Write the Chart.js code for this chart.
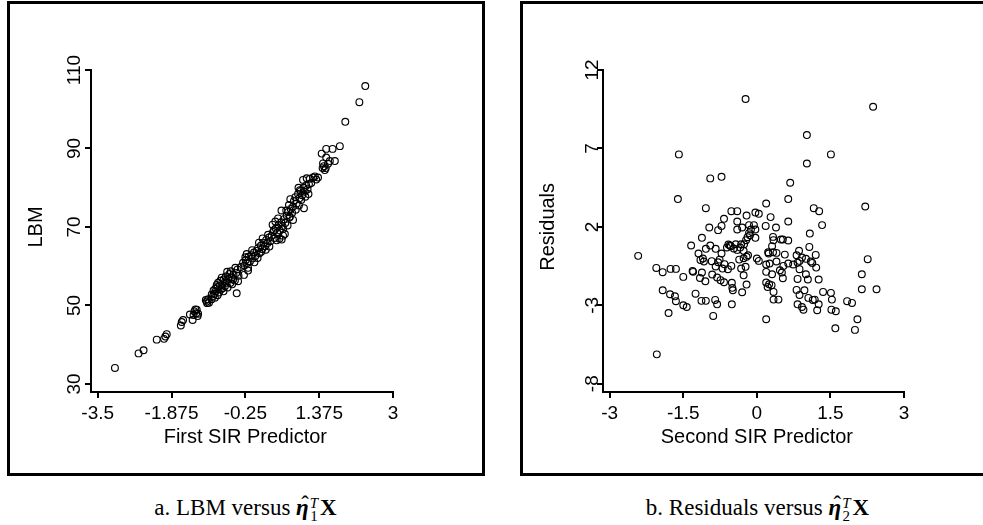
<!DOCTYPE html>
<html>
<head>
<meta charset="utf-8">
<script src="https://cdn.jsdelivr.net/npm/chart.js@4.4.1/dist/chart.umd.min.js"></script>
<style>
  html, body { margin: 0; padding: 0; background: #fff; }
  body { width: 983px; height: 525px; position: relative; overflow: hidden; }
  .panel { position: absolute; box-sizing: border-box; border: 3px solid #000; }
  canvas { position: absolute; top: 0; }
  .cap { position: absolute; top: 496px; text-align: center; white-space: nowrap;
         font-family: "Liberation Serif", serif; font-size: 23px; line-height: 23px; color: #000; }
  .eta { font-weight: bold; font-style: italic; position: relative; }
  .hat { position: absolute; left: 0.22em; top: -0.08em; font-style: normal; font-weight: normal; }
  .ss { display: inline-block; font-size: 15px; line-height: 13px; vertical-align: -6px; margin: 0 2px 0 1px; }
  .ss i, .ss span { display: block; }
</style>
</head>
<body>

<div class="panel" style="left:7px; width:478px; top:1px; height:475px;"></div>
<div class="panel" style="left:520px; width:470px; top:1px; height:475px;"></div>

<canvas id="plotA" width="492" height="480" style="left:0px;"></canvas>
<canvas id="plotB" width="491" height="480" style="left:492px;"></canvas>

<div class="cap" style="left:0px; width:491px;">a. LBM versus <span class="eta">η<span class="hat">ˆ</span></span><span class="ss"><i>T</i><span>1</span></span><b>X</b></div>
<div class="cap" style="left:532px; width:451px;">b. Residuals versus <span class="eta">η<span class="hat">ˆ</span></span><span class="ss"><i>T</i><span>2</span></span><b>X</b></div>

<script>
/* panel a: LBM against the first SIR predictor */

const lbmPredictor = [
    -3.12, -2.60, -2.49, -2.20, -2.04, -2.01, -1.98, -1.67, -1.65, -1.62,
    -1.47, -1.41, -1.37, -1.32, -1.29, -1.33, -1.30, -1.39, -1.35, -1.10,
    -1.07, -1.12, -1.05, -0.99, -1.09, -0.96, -0.93, -0.90, -0.86, -0.83,
    -0.91, -0.86, -0.79, -0.76, -0.73, -0.70, -0.85, -0.80, -0.73, -0.66,
    -0.62, -0.58, -0.55, -0.51, -0.48, -0.45, -0.60, -0.68, -0.42, -0.40,
    -0.44, -0.28, -0.41, -0.95, -0.88, -0.77, -0.64, -0.57, -0.52, -0.47,
    -0.35, -0.92, -0.81, -0.69, -0.54, -0.99, -0.75, -0.27, -0.24, -0.21,
    -0.18, -0.15, -0.12, -0.22, -0.09, -0.06, -0.03, 0.00, -0.19, -0.19,
    0.03, 0.06, 0.09, 0.12, 0.15, 0.18, 0.21, 0.24, 0.27, 0.05,
    0.10, -0.05, 0.20, 0.30, -0.25, 0.13, 0.25, -0.10, 0.02, 0.33,
    0.36, 0.39, 0.42, 0.45, 0.48, 0.51, 0.54, 0.57, 0.60, 0.63,
    0.66, 0.69, 0.72, 0.75, 0.78, 0.35, 0.41, 0.50, 0.55, 0.62,
    0.58, 0.47, 0.545, 0.71, 0.65, 0.80, 0.68, 0.44, 0.38, 0.58,
    0.74, 0.73, 0.80, 1.04, 0.82, 0.85, 0.88, 0.91, 0.94, 0.97,
    1.00, 1.03, 1.06, 1.09, 1.12, 1.02, 1.10, 1.17, 1.24, 1.31,
    1.20, 1.15, 0.86, 0.93, 0.98, 1.07, 1.14, 1.28, 1.35, 0.95,
    1.43, 1.53, 1.72, 1.61, 1.48, 1.45, 1.52, 1.53, 1.67, 1.83,
    1.95, 2.26, 2.39, 1.50, 1.57, 1.46, -0.65, -0.30, 0.28, 0.92
];

const lbmValues = [
    34.1, 37.8, 38.6, 41.3, 41.5, 42.1, 42.7, 44.9, 45.8, 46.3,
    47.7, 46.3, 48.5, 48.9, 47.9, 48.0, 47.3, 47.6, 49.0, 51.0,
    51.6, 51.4, 50.7, 51.6, 50.6, 52.4, 53.0, 53.6, 52.6, 53.3,
    54.3, 54.7, 54.1, 55.3, 53.6, 54.9, 55.8, 56.3, 56.6, 55.8,
    56.8, 55.7, 57.2, 57.8, 56.4, 58.3, 58.0, 57.4, 59.2, 57.6,
    53.1, 57.8, 56.2, 53.8, 55.2, 57.1, 54.6, 58.7, 56.6, 59.6,
    59.8, 52.0, 55.0, 56.2, 55.4, 52.8, 54.4, 60.2, 61.6, 60.8,
    62.4, 61.2, 62.8, 63.1, 62.0, 63.5, 62.6, 63.9, 59.6, 58.9,
    64.6, 63.3, 65.2, 64.4, 66.0, 65.1, 66.7, 65.9, 67.3, 66.0,
    63.7, 61.0, 64.2, 66.4, 62.3, 67.1, 68.0, 64.1, 62.1, 67.8,
    68.7, 67.2, 69.6, 68.5, 70.4, 69.1, 71.2, 70.2, 72.0, 71.0,
    72.9, 73.8, 72.4, 74.6, 73.6, 70.6, 71.4, 67.0, 66.8, 68.2,
    67.8, 72.2, 74.2, 75.6, 74.2, 75.2, 70.4, 66.6, 69.2, 69.5,
    77.1, 72.6, 71.8, 74.8, 76.6, 77.6, 76.0, 78.4, 77.3, 79.2,
    78.1, 80.0, 79.0, 80.6, 79.6, 82.0, 82.4, 82.3, 82.6, 82.1,
    81.2, 80.9, 74.4, 75.5, 76.9, 77.7, 78.4, 82.9, 82.6, 79.4,
    88.7, 87.7, 86.8, 86.8, 85.5, 85.0, 85.0, 89.9, 89.9, 90.6,
    96.8, 101.8, 105.9, 84.5, 86.1, 86.2, 58.6, 60.9, 65.0, 80.0
];

const lbmTicksX = [-3.5, -1.875, -0.25, 1.375, 3];
const lbmTicksY = [30, 50, 70, 90, 110];

/* panel b: residuals against the second SIR predictor */

const residPredictor = [
    -0.23, 2.37, 1.02, 1.51, -1.59, 1.02, -0.95, -0.72, 0.68, -1.61,
    0.64, 0.19, 2.21, -1.04, -0.52, -0.40, 1.16, 1.27, -0.03, 0.04,
    -0.21, 0.28, -0.67, 0.64, -0.40, 1.33, -0.16, -0.06, -0.72, -0.97,
    0.18, 0.39, -0.30, -0.40, -0.12, -0.03, -0.79, -0.16, 1.08, -0.03,
    -0.19, -1.12, -0.22, 0.33, 0.34, 0.49, 0.53, 0.64, -0.26, -0.32,
    -0.43, -0.55, -0.58, -0.53, -0.61, -1.34, -0.95, 0.31, 1.07, -0.34,
    -0.47, -1.04, -0.84, 0.23, 0.33, 0.40, 0.86, -1.19, -1.10, -0.72,
    -0.27, -0.40, -0.18, -0.21, 1.20, 0.81, 0.57, 0.24, -2.42, -0.27,
    -0.36, 0.00, 0.04, 2.26, -1.15, -1.08, -0.92, -0.76, -0.79, 0.40,
    0.26, 0.64, 0.83, 0.87, 1.10, 1.13, -0.66, -0.84, -0.52, -0.32,
    -0.23, 0.54, 0.74, 0.92, 1.00, 1.21, 1.00, 0.87, 0.47, 0.51,
    0.19, 0.31, 0.19, -0.59, -0.70, -2.05, -1.76, -1.65, -1.92, -1.31,
    -1.30, -1.12, -0.91, -1.50, -1.16, -0.81, -0.27, 0.53, 0.83, 1.04,
    1.26, 2.14, -1.05, -0.74, -0.67, -0.51, -0.21, 0.19, 0.25, 0.30,
    0.22, -0.50, -0.49, 2.14, 2.44, -1.92, 0.81, 0.97, 0.34, -0.30,
    1.35, 1.51, -1.25, -1.77, -1.67, 0.87, -1.65, -1.13, -1.04, -0.85,
    -0.81, -0.51, 0.34, 0.44, 1.05, 1.14, 1.18, 0.83, 1.26, 1.53,
    1.84, 1.94, -1.50, -1.43, 0.92, 0.95, 1.23, 1.52, 1.61, -1.80,
    -0.89, 0.19, 2.05, 1.60, 2.00, -2.04, -0.14
];

const residValues = [
    10.15, 9.66, 7.85, 6.62, 6.62, 6.04, 5.09, 5.19, 4.81, 3.77,
    3.77, 3.49, 3.30, 3.19, 3.00, 3.00, 3.19, 3.00, 2.91, 2.83,
    2.72, 2.62, 2.51, 2.34, 2.34, 2.11, 2.11, 2.11, 2.06, 1.96,
    2.06, 1.96, 1.96, 1.83, 1.83, 1.83, 1.79, 1.60, 1.57, 1.30,
    1.34, 1.30, 1.15, 1.36, 1.15, 1.19, 1.19, 1.13, 0.89, 0.89,
    0.89, 0.81, 0.87, 0.77, 0.68, 0.81, 0.81, 0.77, 0.72, 0.68,
    0.62, 0.60, 0.60, 0.38, 0.38, 0.34, 0.47, 0.30, -0.02, 0.30,
    0.47, 0.53, 0.19, 0.09, 0.21, 0.19, 0.23, 0.30, 0.15, 0.00,
    -0.09, -0.02, -0.17, -0.06, -0.11, -0.21, -0.19, -0.09, -0.26, -0.21,
    -0.34, -0.34, -0.28, -0.17, -0.21, -0.30, -0.38, -0.53, -0.49, -0.66,
    -0.55, -0.49, -0.40, 0.04, -0.04, -0.60, -1.02, -0.70, -0.77, -0.91,
    -0.87, -1.02, -0.40, -0.70, -0.66, -0.62, -0.68, -0.68, -0.89, -0.81,
    -0.87, -0.91, -1.04, -1.19, -1.26, -1.23, -1.09, -1.28, -1.32, -1.36,
    -1.36, -1.02, -1.47, -1.40, -1.53, -1.57, -1.68, -1.55, -1.66, -1.72,
    -1.83, -1.89, -2.04, -1.98, -1.98, -2.04, -2.02, -2.04, -2.15, -2.17,
    -2.15, -2.21, -2.26, -2.30, -2.43, -2.34, -2.74, -2.72, -2.72, -2.66,
    -2.94, -2.94, -2.64, -2.64, -2.53, -2.66, -2.64, -2.94, -2.94, -2.64,
    -2.74, -2.85, -3.00, -3.11, -3.11, -3.28, -3.32, -3.28, -3.38, -3.49,
    -3.68, -3.89, -3.89, -4.47, -4.57, -6.13, 1.47
];

const residTicksX = [-3, -1.5, 0, 1.5, 3];
const residTicksY = [-8, -3, 2, 7, 12];

/* tick labels and axis titles, placed from the scales */

const axisText = {

    id: "axisText",

    afterDraw(chart, args, opts) {

        const { ctx, chartArea } = chart;
        const xs = chart.scales.x;
        const ys = chart.scales.y;

        ctx.save();
        ctx.fillStyle = "#000";
        ctx.textAlign = "center";
        ctx.textBaseline = "alphabetic";

        ctx.font = '19px "Liberation Sans"';

        opts.xTicks.forEach(v => {
            ctx.fillText(String(v), xs.getPixelForValue(v), chartArea.bottom + 27);
        });

        opts.yTicks.forEach(v => {
            ctx.save();
            ctx.translate(chartArea.left - opts.yGap, ys.getPixelForValue(v));
            ctx.rotate(-Math.PI / 2);
            ctx.fillText(String(v), 0, 0);
            ctx.restore();
        });

        ctx.font = '20px "Liberation Sans"';

        const xMid = (xs.getPixelForValue(opts.xTicks[0]) +
            xs.getPixelForValue(opts.xTicks[opts.xTicks.length - 1])) / 2;
        ctx.fillText(opts.xTitle, xMid, chartArea.bottom + 51);

        const yMid = (ys.getPixelForValue(opts.yTicks[0]) +
            ys.getPixelForValue(opts.yTicks[opts.yTicks.length - 1])) / 2;
        ctx.save();
        ctx.translate(chartArea.left - 49, yMid);
        ctx.rotate(-Math.PI / 2);
        ctx.fillText(opts.yTitle, 0, 0);
        ctx.restore();

        ctx.restore();
    }
};

function drawPlot(canvasId, xVals, yVals, setup) {

    const canvas = document.getElementById(canvasId);

    const points = xVals.map((x, i) => ({ x: x, y: yVals[i] }));

    const axisLook = {
        border: { display: true, color: "#000", width: 2 },
        grid: {
            display: true,
            drawOnChartArea: false,
            drawTicks: true,
            tickLength: 6,
            color: "#000",
            lineWidth: 2
        },
        ticks: { display: false, autoSkip: false }
    };

    return new Chart(canvas.getContext("2d"), {

        type: "scatter",

        data: {
            datasets: [{
                data: points,
                pointStyle: "circle",
                pointRadius: 3.4,
                pointHoverRadius: 3.4,
                pointBorderWidth: 1.15,
                borderColor: "#000",
                backgroundColor: "rgba(0,0,0,0)"
            }]
        },

        options: {
            responsive: false,
            animation: false,
            events: [],
            layout: {
                padding: {
                    left: 0,
                    top: 70,
                    right: canvas.width - setup.right,
                    bottom: canvas.height - 392 - 40
                }
            },
            scales: {
                x: Object.assign({}, axisLook, {
                    type: "linear",
                    position: "bottom",
                    min: setup.xMin,
                    max: setup.xMax,
                    afterBuildTicks: s => { s.ticks = setup.xTicks.map(v => ({ value: v })); },
                    afterFit: s => { s.height = 40; }
                }),
                y: Object.assign({}, axisLook, {
                    type: "linear",
                    position: "left",
                    min: setup.yMin,
                    max: setup.yMax,
                    afterBuildTicks: s => { s.ticks = setup.yTicks.map(v => ({ value: v })); },
                    afterFit: s => { s.width = setup.left; }
                })
            },
            plugins: {
                legend: { display: false },
                tooltip: { enabled: false },
                axisText: {
                    xTicks: setup.xTicks,
                    yTicks: setup.yTicks,
                    xTitle: setup.xTitle,
                    yTitle: setup.yTitle,
                    yGap: setup.yGap
                }
            }
        },

        plugins: [axisText]
    });
}

drawPlot("plotA", lbmPredictor, lbmValues, {
    left: 91, right: 393,
    xMin: -3.647, xMax: 3,
    yMin: 27.96, yMax: 110,
    xTicks: lbmTicksX, yTicks: lbmTicksY,
    xTitle: "First SIR Predictor", yTitle: "LBM",
    yGap: 11
});

drawPlot("plotB", residPredictor, residValues, {
    left: 111, right: 412,
    xMin: -3.137, xMax: 3,
    yMin: -8.53, yMax: 12,
    xTicks: residTicksX, yTicks: residTicksY,
    xTitle: "Second SIR Predictor", yTitle: "Residuals",
    yGap: 5
});
</script>
</body>
</html>
